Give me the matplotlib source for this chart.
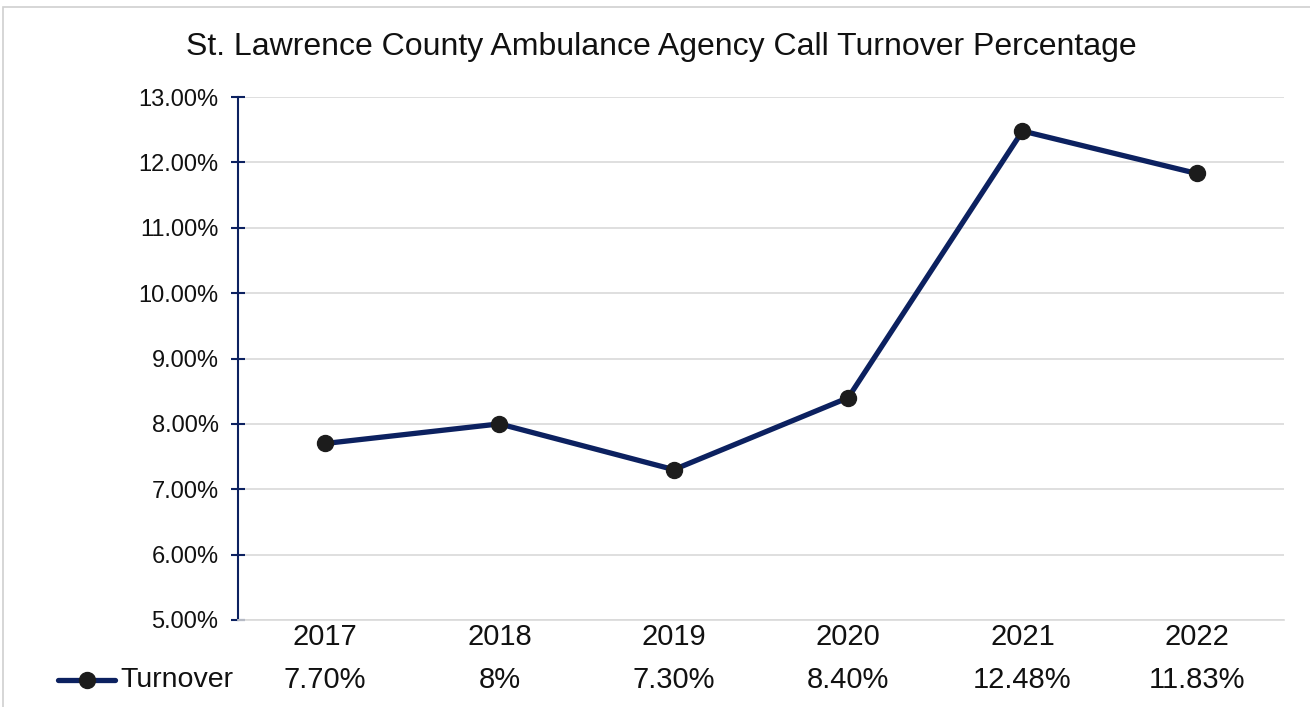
import matplotlib.pyplot as plt
from matplotlib.lines import Line2D
from matplotlib.patches import Rectangle
from matplotlib.ticker import FuncFormatter
import matplotlib.transforms as mtransforms

plt.rcParams['font.family'] = ['Liberation Sans', 'DejaVu Sans']

years = ['2017', '2018', '2019', '2020', '2021', '2022']
turnover = [7.70, 8.00, 7.30, 8.40, 12.48, 11.83]
table_labels = ['7.70%', '8%', '7.30%', '8.40%', '12.48%', '11.83%']
series_name = 'Turnover'

navy = '#0c2160'
dot = '#1c1c1c'

fig = plt.figure(figsize=(13.1, 7.07), dpi=100)
ax = fig.add_axes([238 / 1310, 1 - 620 / 707, (1284 - 238) / 1310, (620 - 97) / 707])

x = list(range(len(years)))
ax.plot(x, turnover, color=navy, lw=3.8, marker='o', ms=11.5,
        mfc=dot, mec=dot, zorder=3, solid_capstyle='round')

ax.set_xlim(-0.5, len(years) - 0.5)
ax.set_ylim(5, 13)
ax.set_yticks(range(5, 14))
ax.yaxis.set_major_formatter(FuncFormatter(lambda v, p: f'{v:.2f}%'))
ax.grid(axis='y', color='#d9d9d9', lw=1.2)
ax.set_axisbelow(True)
ax.set_xticks([])

for s in ['top', 'right']:
    ax.spines[s].set_visible(False)
ax.spines['bottom'].set_color('#d9d9d9')
ax.spines['bottom'].set_linewidth(1.2)
ax.spines['left'].set_color(navy)
ax.spines['left'].set_linewidth(1.5)
ax.tick_params(axis='y', direction='inout', length=10, width=1.5,
               color=navy, labelsize=17, pad=9, labelcolor='#111111')

# data table under the plot
trans = mtransforms.blended_transform_factory(ax.transData, ax.transAxes)
for i, (yr, lab) in enumerate(zip(years, table_labels)):
    ax.text(i, -0.0325, yr, transform=trans, ha='center', va='center',
            fontsize=21, color='#111111')
    ax.text(i, -0.1147, lab, transform=trans, ha='center', va='center',
            fontsize=21, color='#111111')

ky = 1 - 680 / 707
fig.add_artist(Line2D([58 / 1310, 115 / 1310], [ky, ky], color=navy, lw=3.8,
                      solid_capstyle='round'))
fig.add_artist(Line2D([87 / 1310], [ky], marker='o', ms=11.5, mfc=dot, mec=dot))
fig.text(120 / 1310, ky, series_name, ha='left', va='center', fontsize=20.5,
         color='#111111')

fig.text(661 / 1310, 1 - 47 / 707,
         'St. Lawrence County Ambulance Agency Call Turnover Percentage',
         ha='center', va='center', fontsize=23, color='#111111')

fig.add_artist(Rectangle((3 / 1310, -0.05), 1.1, 1 - 7 / 707 + 0.05,
                         transform=fig.transFigure, fill=False,
                         ec='#d0d0d0', lw=1.2))

fig.savefig('out.png', dpi=100)
